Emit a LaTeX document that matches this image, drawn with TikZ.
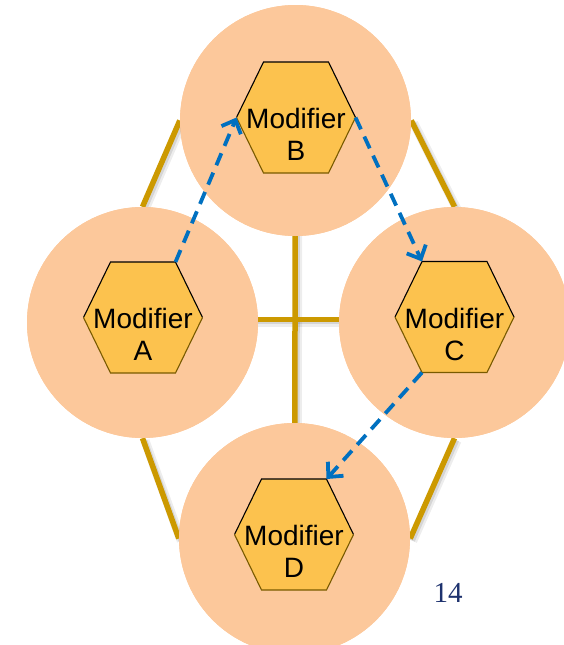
\documentclass[tikz,border=0pt]{standalone}
\usepackage{fontspec}
\setmainfont{Liberation Sans}
\newfontfamily\numfont{Liberation Serif}
\usetikzlibrary{arrows.meta,calc}

\definecolor{peach}{RGB}{252,200,155}
\definecolor{gold}{RGB}{204,153,0}
\definecolor{hexfill}{RGB}{252,194,78}
\definecolor{hexdark}{RGB}{120,90,0}
\definecolor{flowblue}{RGB}{0,112,192}
\definecolor{pagenum}{RGB}{30,50,110}

\tikzset{
  ring/.style={circle, fill=peach, minimum size=231pt, inner sep=0pt},
  frame/.style={draw=gold, line width=5.5pt},
  frameshadow/.style={draw=black, opacity=0.07, line width=9pt,
    transform canvas={xshift=2.5pt, yshift=-2.5pt}},
  frameshadowcore/.style={draw=black, opacity=0.1, line width=5.5pt,
    transform canvas={xshift=2pt, yshift=-2pt}},
  hexa/.style={minimum width=121pt, minimum height=113pt, inner sep=0pt,
    path picture={
      \fill[hexfill] (path picture bounding box.center) ++(-59.5pt,0pt)
        -- ++(27pt,55.5pt) -- ++(65pt,0pt) -- ++(27pt,-55.5pt)
        -- ++(-27pt,-55.5pt) -- ++(-65pt,0pt) -- cycle;
      \draw[black, line width=1.1pt] (path picture bounding box.center) ++(-59.5pt,0pt)
        -- ++(27pt,55.5pt) -- ++(65pt,0pt) -- ++(27pt,-55.5pt);
      \draw[hexdark, line width=1.1pt] (path picture bounding box.center) ++(59.5pt,0pt)
        -- ++(-27pt,-55.5pt) -- ++(-65pt,0pt) -- ++(-27pt,55.5pt);
    }},
  hexlabel/.style={align=center, inner sep=0pt, font=\fontsize{28}{32}\selectfont},
  flow/.style={draw=flowblue, line width=3.8pt, dash pattern=on 13pt off 8pt,
    -{Straight Barb[length=11pt,width=21pt]}}
}

\begin{document}
\begin{tikzpicture}[x=1pt, y=-1pt]
  \useasboundingbox (0,0) rectangle (564,645);
  \clip (0,0) rectangle (564,645);

  % the four peach discs (placed first so the frame can refer to them)
  \path
    node[ring] (B) at (295.5,120.5) {}
    node[ring] (A) at (142.5,322.5) {}
    node[ring] (C) at (454.5,322.5) {}
    node[ring] (D) at (294.5,538.5) {};

  % gold frame with its soft shadow, behind the discs
  \foreach \sty in {frameshadow, frameshadowcore, frame} {
    \draw[\sty] (B.west) -- (A.north);
    \draw[\sty] (A.south) -- (D.west);
    \draw[\sty] (D.east) -- (C.south);
    \draw[\sty] (C.north) -- (B.east);
    \draw[\sty] (B.center) -- (D.center);
    \draw[\sty] ([yshift=3pt]A.center) -- ([yshift=3pt]C.center);
  }

  % discs again on top of the frame
  \foreach \n/\p in {B/{(295.5,120.5)}, A/{(142.5,322.5)}, C/{(454.5,322.5)}, D/{(294.5,538.5)}}
    \node[ring] (disc\n) at \p {};

  % hexagons
  \node[hexa] (hA) at (143,317.5) {};
  \node[hexa] (hB) at (296,117.5) {};
  \node[hexa] (hC) at (454.5,317) {};
  \node[hexa] (hD) at (294,534.5) {};

  % hexagon captions
  \node[hexlabel] (tA) at (143,334.5) {Modifier\\A};
  \node[hexlabel] (tB) at (296,134.5) {Modifier\\B};
  \node[hexlabel] (tC) at (454.5,334) {Modifier\\C};
  \node[hexlabel] (tD) at (294,551.5) {Modifier\\D};

  % dashed flow A -> B -> C -> D
  \draw[flow] ($(hA.center)+(32.5pt,55.5pt)$) -- ($(hB.center)+(-59.5pt,0pt)$);
  \draw[flow] ($(hB.center)+(59.5pt,0pt)$) -- ($(hC.center)+(-32.5pt,55.5pt)$);
  \draw[flow] ($(hC.center)+(-32.5pt,-55.5pt)$) -- ($(hD.center)+(32.5pt,55.5pt)$);

  % page number
  \node[text=pagenum, font=\numfont\fontsize{29}{34}\selectfont, inner sep=0pt] (num) at (448,593) {14};
\end{tikzpicture}
\end{document}
